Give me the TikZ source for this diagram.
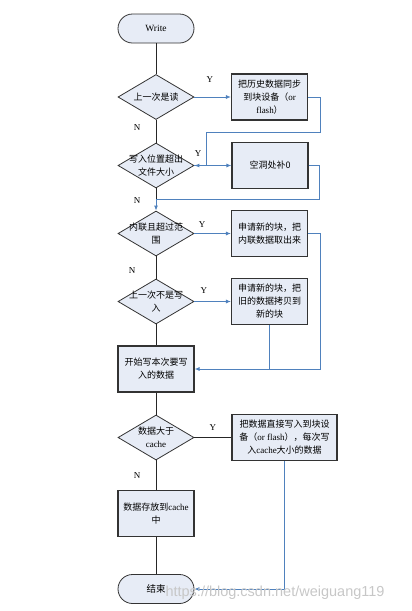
\documentclass[tikz,border=0pt]{standalone}
\usepackage{fontspec}
\setmainfont{Liberation Serif}
\newfontfamily\cjk{Noto Sans CJK SC}
\newfontfamily\wmfont{Liberation Sans}
\usetikzlibrary{arrows.meta,shapes.geometric}
\definecolor{boxfill}{RGB}{231,236,246}
\definecolor{flowblue}{RGB}{79,129,189}
\newcommand{\lat}[1]{{\rmfamily #1}}

\begin{document}
\begin{tikzpicture}[x=1pt,y=-1pt,>={Latex[length=5pt,width=4pt]},
    term/.style={draw=black!80,line width=0.8pt,fill=boxfill,rounded corners=14.5pt,
      minimum width=76pt,minimum height=29pt,font=\fontsize{9.5}{12}\selectfont},
    proc/.style={draw=black!80,line width=1.1pt,fill=boxfill,minimum width=76pt,
      minimum height=46pt,align=center,inner sep=1pt,font=\cjk\fontsize{9}{13}\selectfont},
    decide/.style={draw=black!80,line width=0.8pt,fill=boxfill,diamond,minimum width=76pt,
      minimum height=45pt,inner sep=0pt,
      label={[font=\cjk\fontsize{9}{13}\selectfont,align=center]center:#1}},
    line/.style={draw=black!85,line width=0.8pt},
    flow/.style={draw=flowblue,line width=0.9pt},
    lbl/.style={font=\fontsize{9}{10}\selectfont}]
      \useasboundingbox (0,0) rectangle (412,611);
      \node[term] (w) at (156,28.5) {Write};
      \node[decide={上一次是读}] (d1) at (156,97) {};
      \node[proc] (b1) at (269.5,97) {把历史数据同步\\到块设备（\lat{or}\\\lat{flash}）};
      \node[decide={写入位置超出\\文件大小}] (d2) at (156,165.5) {};
      \node[proc] (b2) at (270,165.5) {空洞处补0};
      \node[decide={内联且超过范\\围}] (d3) at (156,233.5) {};
      \node[proc] (b3) at (269.5,233.5) {申请新的块，把\\内联数据取出来};
      \node[decide={上一次不是写\\入}] (d4) at (156,301.5) {};
      \node[proc] (b4) at (269.5,301.5) {申请新的块，把\\旧的数据拷贝到\\新的块};
      \node[proc] (b5) at (156,369) {开始写本次要写\\入的数据};
      \node[decide={数据大于\\\lat{cache}}] (d5) at (156,437.5) {};
      \node[proc,minimum width=105pt] (b6) at (284.5,437.5)
        {把数据直接写入到块设\\备（\lat{or flash}），每次写\\入\lat{cache}大小的数据};
      \node[proc] (b7) at (156,513.5) {数据存放到\lat{cache}\\中};
      \node[term,font=\cjk\fontsize{9.5}{12}\selectfont] (e) at (156,589) {结束};
      \coordinate (j1) at (156,199);
      \draw[line] (w) -- (d1);
      \draw[flow,->] (d1) -- node[lbl,pos=0.42,yshift=17pt] {Y} (b1);
      \draw[line] (d1) -- node[lbl,pos=0.33,xshift=-19pt] {N} (d2);
      \draw[flow,->] (b1.east) -- ++(12,0) -- ++(0,35) -| ([xshift=11.7pt]d2.east) -- (d2.east);
      \draw[flow,->] (d2) -- node[lbl,pos=0.1,yshift=11.5pt] {Y} (b2);
      \draw[line] (d2) -- node[lbl,pos=1,xshift=-19pt,yshift=-2pt] {N} (j1);
      \draw[flow] (b2.east) -- ++(11,0) |- (j1);
      \draw[flow,->] (j1) -- (d3);
      \draw[flow,->] (d3) -- node[lbl,pos=0.21,yshift=9pt] {Y} (b3);
      \draw[line] (d3) -- node[lbl,pos=0.65,xshift=-24pt] {N} (d4);
      \draw[flow,->] (d4) -- node[lbl,pos=0.26,yshift=10.5pt] {Y} (b4);
      \draw[line] (d4) -- (b5);
      \draw[flow,->] (b3.east) -- ++(12,0) |- (b5.east);
      \draw[flow] (b4.south) -- (b4.south |- b5.east);
      \draw[line] (b5) -- (d5);
      \draw[line] (d5) -- node[lbl,pos=0.5,yshift=9.5pt] {Y} (b6);
      \draw[line] (d5) -- node[lbl,pos=0.5,xshift=-19pt] {N} (b7);
      \draw[line] (b7) -- (e);
      \draw[flow,->] (b6.south) |- (e.east);
      \node[anchor=west,text=black!22,font=\wmfont\fontsize{14.5}{16}\selectfont] (wm) at (162,593)
        {https://blog.csdn.net/weiguang119};
    \end{tikzpicture}
\end{document}
